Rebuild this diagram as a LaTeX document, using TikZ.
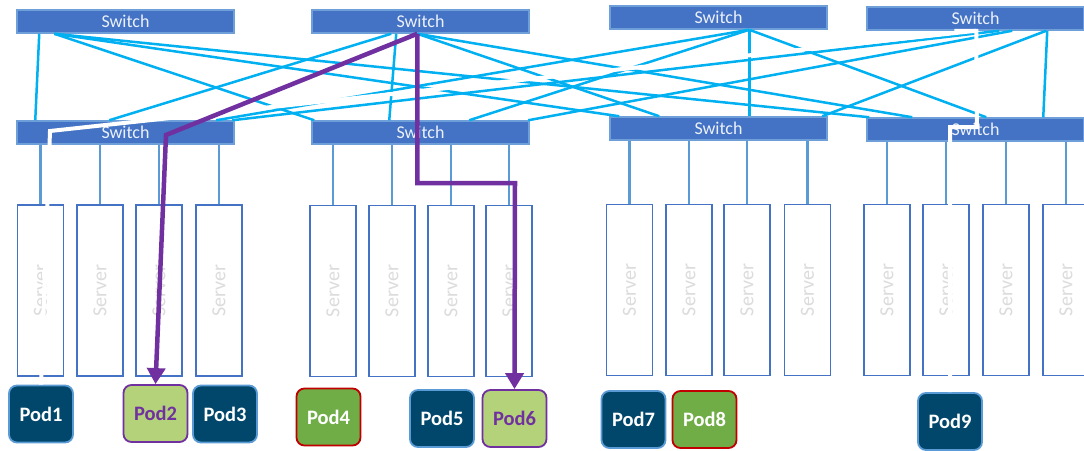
\documentclass[tikz,border=0pt]{standalone}
\usepackage{fontspec}
\setmainfont{Carlito}
\usetikzlibrary{arrows.meta,calc}
\definecolor{swfill}{HTML}{4472C4}
\definecolor{swdraw}{HTML}{6F9FD8}
\definecolor{mesh}{HTML}{00B0F0}
\definecolor{linkc}{HTML}{5B9BD5}
\definecolor{srvdraw}{HTML}{4472C4}
\definecolor{srvtext}{HTML}{DCDCDC}
\definecolor{poddark}{HTML}{00476B}
\definecolor{podborder}{HTML}{5B9BD5}
\definecolor{podgreen}{HTML}{70AD47}
\definecolor{podlight}{HTML}{B4D27A}
\definecolor{routec}{HTML}{7030A0}
\definecolor{podred}{HTML}{C00000}
\begin{document}
\begin{tikzpicture}[x=1pt,y=-1pt,
  switchbox/.style={draw=swdraw, line width=1.5pt, fill=swfill, minimum width=217pt, minimum height=23pt, inner sep=0pt, text=white!90!swfill, font=\fontsize{18}{18}\selectfont},
  server/.style={draw=srvdraw, line width=1.6pt, fill=white, minimum width=46pt, minimum height=171pt, inner sep=0pt,
    label={[rotate=90, text=srvtext, font=\fontsize{20}{20}\selectfont]center:Server}},
  srvlink/.style={draw=linkc, line width=2.2pt},
  meshline/.style={draw=mesh, line width=2.5pt},
  podbox/.style={rounded corners=8pt, line width=1.8pt, minimum width=64pt, minimum height=57pt, inner sep=0pt, font=\fontsize{20.5}{20.5}\selectfont\bfseries},
  poddk/.style={podbox, draw=podborder, fill=poddark, text=white},
  podgr/.style={podbox, draw=podred, fill=podgreen, text=white},
  podlt/.style={podbox, draw=routec, fill=podlight, text=routec},
  route/.style={draw=routec, line width=4.5pt, line join=miter, -{Triangle[length=16pt,width=18pt]}},
  ghost/.style={draw=white, line width=4pt}
]
\useasboundingbox (0,0) rectangle (1084,450);
\fill[white] (0,0) rectangle (1084,450);

% switches
\node[switchbox] (s1) at (125.5,21.5) {Switch};
\node[switchbox] (s2) at (420.5,21.5) {Switch};
\node[switchbox] (s3) at (718.5,17.5) {Switch};
\node[switchbox] (s4) at (975.5,18.5) {Switch};
\node[switchbox] (b1) at (125.5,132.5) {Switch};
\node[switchbox] (b2) at (420.5,132.5) {Switch};
\node[switchbox] (b3) at (718.5,128.5) {Switch};
\node[switchbox] (b4) at (975.5,129.5) {Switch};

% mesh links
\foreach \t/\tx/\bb/\bx in {
  s1/23/b1/19, s1/38/b2/3, s1/38/b3/10, s1/38/b4/3,
  s2/80/b1/93, s2/85/b2/78, s2/106/b3/50, s2/106/b4/46,
  s3/140/b1/200, s3/140/b2/158, s3/140/b3/140, s3/140/b4/120,
  s4/133/b1/216, s4/146/b2/217, s4/180/b3/213, s4/181/b4/177}
  \draw[meshline] ([xshift=\tx pt]\t.south west) -- ([xshift=\bx pt]\bb.north west);

% servers
\foreach \n/\x/\y/\b in {
  1/40.5/290.5/b1, 2/100/290.5/b1, 3/159/290.5/b1, 4/219/290.5/b1,
  5/333/291/b2, 6/392/291/b2, 7/451/291/b2, 8/509/291/b2,
  9/629.5/290/b3, 10/689/290/b3, 11/747/290/b3, 12/807.5/290/b3,
  13/887/290/b4, 14/946/290/b4, 15/1006/290/b4, 16/1066/290/b4}
{
  \node[server] (sv\n) at (\x,\y) {};
  \draw[srvlink] (sv\n.north) -- (sv\n.north |- \b.south);
}

% pods
\node[poddk] (pod1) at (41,414) {Pod1};
\node[podlt] (pod2) at (155.5,413.5) {Pod2};
\node[poddk] (pod3) at (225,414) {Pod3};
\node[podgr] (pod4) at (328.5,417) {Pod4};
\node[poddk] (pod5) at (442,418.5) {Pod5};
\node[podlt] (pod6) at (514.5,418.5) {Pod6};
\node[poddk] (pod7) at (633.5,419.5) {Pod7};
\node[podgr] (pod8) at (704.5,419.5) {Pod8};
\node[poddk] (pod9) at (950,421.5) {Pod9};

% hidden (white) routes
\coordinate (wc) at (977,127);
\coordinate (wd) at (950,127);
\coordinate (we) at (50,131);
\draw[ghost] ([xshift=88pt]s4.south west) -- ([xshift=110pt]s4.south west) -- (wc) -- (wd) -- (pod9.north);
\draw[ghost] ([xshift=110pt]s4.south west) -- (we) -- (pod1.north);

% highlighted routes
\coordinate (pa) at (166,135);
\coordinate (pb) at (515,183);
\draw[route] ([xshift=106pt]s2.south west) -- (pa) -- (pod2.north);
\draw[route] ([xshift=106pt]s2.south west) |- (pb) -- (pod6.north);
\end{tikzpicture}
\end{document}
